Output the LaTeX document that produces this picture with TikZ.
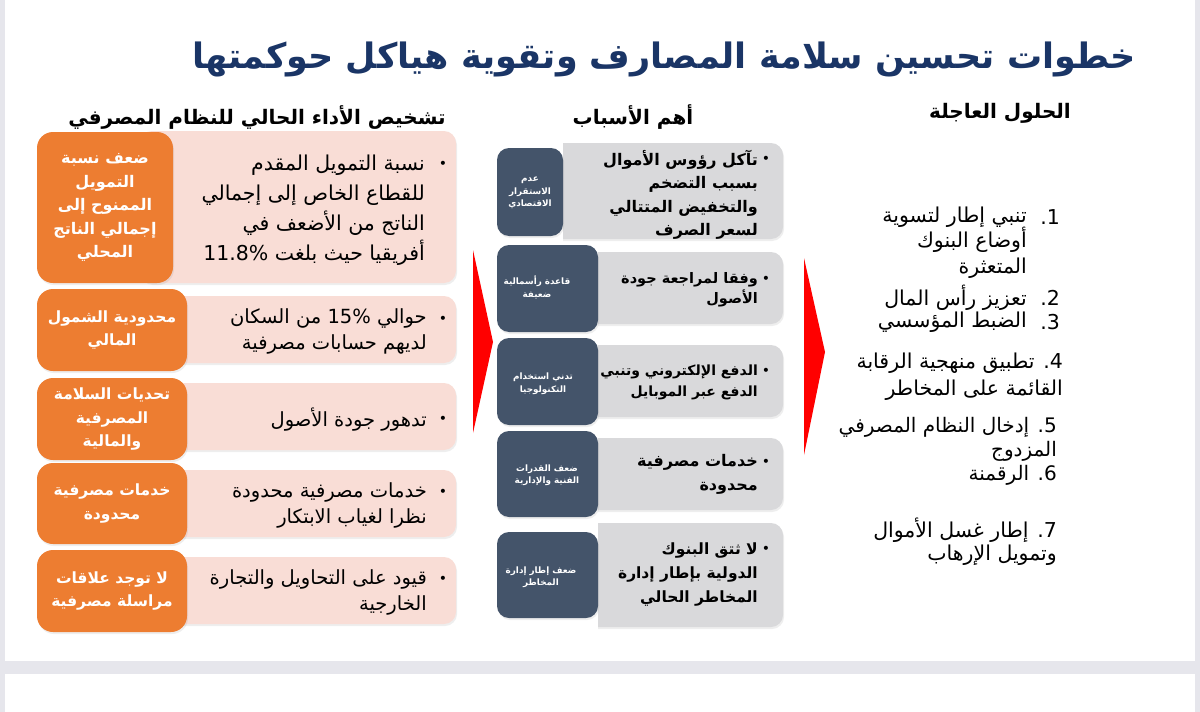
\documentclass[tikz,border=0pt]{standalone}
\usepackage{fontspec}
\usetikzlibrary{shadows}
\TeXXeTstate=1
\newfontfamily\ar[Script=Arabic]{DejaVu Sans}
\newcommand{\rtlx}[1]{\beginR #1\endR}
\newcommand{\ltrx}[1]{\beginL #1\endL{}}
\definecolor{orangec}{HTML}{ED7D31}
\definecolor{pinkc}{HTML}{F9DDD6}
\definecolor{navyc}{HTML}{44546A}
\definecolor{grayc}{HTML}{D9D9DB}
\definecolor{titlec}{HTML}{1A3566}
\definecolor{pagebg}{HTML}{E6E6EC}
\definecolor{redc}{HTML}{FF0000}
\newcommand{\bx}[6]{\node[#2, minimum width=#5pt-#3pt, minimum height=#6pt-#4pt, inner sep=0pt, outer sep=0pt] (#1) at ({(#3+#5)/2},{(#4+#6)/2}) {};}
\tikzset{
  softshadow/.style={drop shadow={opacity=0.13, shadow xshift=1pt, shadow yshift=-2pt}},
  orbox/.style={fill=orangec, rounded corners=16pt, softshadow},
  pkbox/.style={fill=pinkc, rounded corners=12pt, softshadow},
  nvbox/.style={fill=navyc, rounded corners=12pt, softshadow},
  grbox/.style={fill=grayc, rounded corners=12pt, softshadow},
  titletxt/.style={font=\ar\bfseries\fontsize{35}{40}\selectfont, text=titlec, inner sep=0pt},
  hdr/.style={font=\ar\bfseries\fontsize{20}{24}\selectfont, text=black, inner sep=0pt},
  ortxt/.style={font=\ar\bfseries\fontsize{15.5}{23.5}\selectfont, text=white, align=center, inner sep=0pt},
  pktxt/.style={font=\ar\fontsize{19.5}{26}\selectfont, text=black, align=right, anchor=east, inner sep=0pt},
  bul/.style={font=\ar\fontsize{14}{16}\selectfont, text=black, inner sep=0pt},
  grtxt/.style={font=\ar\bfseries\fontsize{16}{23.5}\selectfont, text=black, align=right, anchor=east, inner sep=0pt},
  nvtxt/.style={font=\ar\bfseries\fontsize{8.8}{12.5}\selectfont, text=white, align=center, inner sep=0pt},
  rttxt/.style={font=\ar\fontsize{20.5}{25.5}\selectfont, text=black, align=right, anchor=east, inner sep=0pt},
}
\begin{document}
\begin{tikzpicture}[x=1pt,y=-1pt]
\useasboundingbox (0,0) rectangle (1200,712);
\fill[pagebg] (0,0) rectangle (1200,712);
\fill[white] (5,0) rectangle (1195,661);
\fill[white] (5,674) rectangle (1195,712);

% title and headers
\node[titletxt] (title) at (664,59) {\rtlx{خطوات تحسين سلامة المصارف وتقوية هياكل حوكمتها}};
\node[hdr] (h1) at (257,117) {\rtlx{تشخيص الأداء الحالي للنظام المصرفي}};
\node[hdr] (h2) at (633,117) {\rtlx{أهم الأسباب}};
\node[hdr] (h3) at (1000,113) {\rtlx{الحلول العاجلة}};

% left column: pink boxes
\bx{p1}{pkbox}{140}{131}{456}{283}
\bx{p2}{pkbox}{150}{296}{456}{363}
\bx{p3}{pkbox}{150}{383}{456}{450}
\bx{p4}{pkbox}{150}{470}{456}{537}
\bx{p5}{pkbox}{150}{557}{456}{624}
% left column: orange boxes
\bx{o1}{orbox}{37}{132}{173}{283}
\bx{o2}{orbox}{37}{289}{187}{371}
\bx{o3}{orbox}{37}{378}{187}{460}
\bx{o4}{orbox}{37}{463}{187}{544}
\bx{o5}{orbox}{37}{550}{187}{632}

\node[ortxt, font=\ar\bfseries\fontsize{16}{23.5}\selectfont] (ot1) at (o1) {\rtlx{ضعف نسبة}\\\rtlx{التمويل}\\\rtlx{الممنوح إلى}\\\rtlx{إجمالي الناتج}\\\rtlx{المحلي}};
\node[ortxt] (ot2) at (o2) {\rtlx{محدودية الشمول}\\\rtlx{المالي}};
\node[ortxt] (ot3) at (o3) {\rtlx{تحديات السلامة}\\\rtlx{المصرفية}\\\rtlx{والمالية}};
\node[ortxt] (ot4) at (o4) {\rtlx{خدمات مصرفية}\\\rtlx{محدودة}};
\node[ortxt] (ot5) at (o5) {\rtlx{لا توجد علاقات}\\\rtlx{مراسلة مصرفية}};

\node[pktxt, font=\ar\fontsize{20.5}{30}\selectfont] (pt1) at (425,210) {\rtlx{نسبة التمويل المقدم}\\\rtlx{للقطاع الخاص إلى إجمالي}\\\rtlx{الناتج من الأضعف في}\\\rtlx{أفريقيا حيث بلغت \ltrx{11.8\%}}};
\node[bul] (pb1) at (443,165) {•};
\node[pktxt] (pt2) at (427,331.5) {\rtlx{حوالي \ltrx{15\%} من السكان}\\\rtlx{لديهم حسابات مصرفية}};
\node[bul] (pb2) at (443,320) {•};
\node[pktxt] (pt3) at (427,420) {\rtlx{تدهور جودة الأصول}};
\node[bul] (pb3) at (443,420) {•};
\node[pktxt] (pt4) at (427,505.5) {\rtlx{خدمات مصرفية محدودة}\\\rtlx{نظرا لغياب الابتكار}};
\node[bul] (pb4) at (443,493) {•};
\node[pktxt] (pt5) at (427,592.5) {\rtlx{قيود على التحاويل والتجارة}\\\rtlx{الخارجية}};
\node[bul] (pb5) at (443,580) {•};

% red arrows
\fill[redc] (473,250) -- (493,342) -- (473,433) -- cycle;
\fill[redc] (804,258) -- (825,352) -- (804,455) -- cycle;

% middle column: gray boxes, clipped to the right of the navy boxes
\begin{scope}
\clip (563,0) rectangle (800,245);
\bx{g1}{grbox}{540}{143}{783}{239}
\end{scope}
\begin{scope}
\clip (598,245) rectangle (800,640);
\bx{g2}{grbox}{570}{252}{783}{324}
\bx{g3}{grbox}{570}{345}{783}{417}
\bx{g4}{grbox}{570}{438}{783}{510}
\bx{g5}{grbox}{570}{523}{783}{627}
\end{scope}
\bx{n1}{nvbox}{497}{148}{563}{236}
\bx{n2}{nvbox}{497}{245}{598}{332}
\bx{n3}{nvbox}{497}{338}{598}{425}
\bx{n4}{nvbox}{497}{431}{598}{517}
\bx{n5}{nvbox}{497}{532}{598}{618}

\node[nvtxt] (nt1) at (530,193) {\rtlx{عدم}\\\rtlx{الاستقرار}\\\rtlx{الاقتصادي}};
\node[nvtxt] (nt2) at (537,287.5) {\rtlx{قاعدة رأسمالية}\\\rtlx{ضعيفة}};
\node[nvtxt] (nt3) at (543,383.5) {\rtlx{تدني استخدام}\\\rtlx{التكنولوجيا}};
\node[nvtxt] (nt4) at (547,475) {\rtlx{ضعف القدرات}\\\rtlx{الفنية والإدارية}};
\node[nvtxt] (nt5) at (541,577) {\rtlx{ضعف إطار إدارة}\\\rtlx{المخاطر}};

\node[grtxt] (gt1) at (758,195) {\rtlx{تآكل رؤوس الأموال}\\\rtlx{بسبب التضخم}\\\rtlx{والتخفيض المتتالي}\\\rtlx{لسعر الصرف}};
\node[bul] (gb1) at (766,160) {•};
\node[grtxt, font=\ar\bfseries\fontsize{14.5}{20}\selectfont] (gt2) at (758,290) {\rtlx{وفقا لمراجعة جودة}\\\rtlx{الأصول}};
\node[bul] (gb2) at (766,280) {•};
\node[grtxt, font=\ar\bfseries\fontsize{14}{21}\selectfont] (gt3) at (758,382.5) {\rtlx{الدفع الإلكتروني وتنبي}\\\rtlx{الدفع عبر الموبايل}};
\node[bul] (gb3) at (766,372) {•};
\node[grtxt] (gt4) at (758,474.5) {\rtlx{خدمات مصرفية}\\\rtlx{محدودة}};
\node[bul] (gb4) at (766,463) {•};
\node[grtxt, font=\ar\bfseries\fontsize{15.5}{24}\selectfont] (gt5) at (758,574) {\rtlx{لا ثتق البنوك}\\\rtlx{الدولية بإطار إدارة}\\\rtlx{المخاطر الحالي}};
\node[bul] (gb5) at (766,550) {•};

% right column
\node[rttxt, anchor=east] (r1n) at (1060,217) {1.};
\node[rttxt] (r1) at (1027,242.5) {\rtlx{تنبي إطار لتسوية}\\\rtlx{أوضاع البنوك}\\\rtlx{المتعثرة}};
\node[rttxt, anchor=east] (r2n) at (1060,298) {2.};
\node[rttxt] (r2) at (1027,298) {\rtlx{تعزيز رأس المال}};
\node[rttxt, anchor=east] (r3n) at (1060,322) {3.};
\node[rttxt] (r3) at (1027,322) {\rtlx{الضبط المؤسسي}};
\node[rttxt, font=\ar\fontsize{20.5}{27}\selectfont] (r4) at (1063,376.5) {\rtlx{\ltrx{4.} تطبيق منهجية الرقابة}\\\rtlx{القائمة على المخاطر}};
\node[rttxt, font=\ar\fontsize{20}{24}\selectfont] (r5) at (1057,451) {\rtlx{\ltrx{5.} إدخال النظام المصرفي}\\\rtlx{المزدوج}\\\rtlx{\ltrx{6.} الرقمنة}};
\node[rttxt, font=\ar\fontsize{20.5}{23.5}\selectfont] (r7) at (1057,541.5) {\rtlx{\ltrx{7.} إطار غسل الأموال}\\\rtlx{وتمويل الإرهاب}};
\end{tikzpicture}
\end{document}
